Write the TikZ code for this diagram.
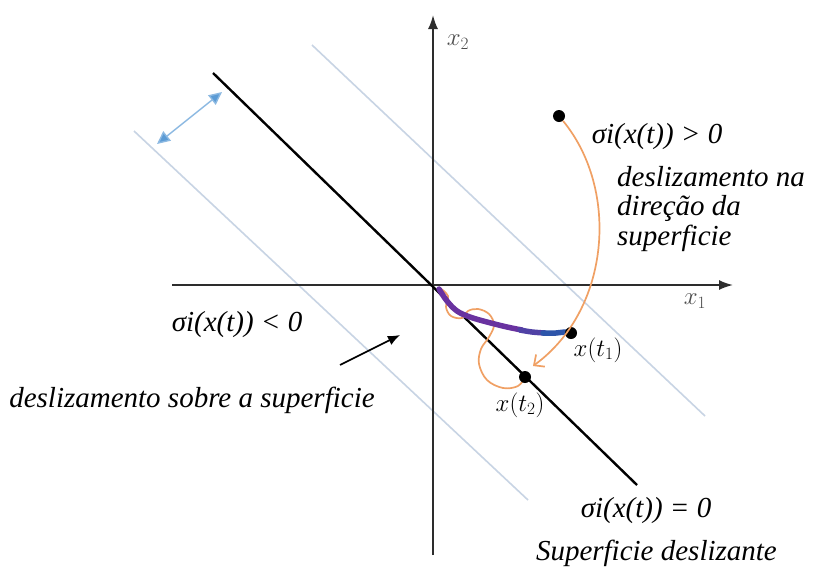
\documentclass[tikz,border=0pt]{standalone}
\usepackage{fontspec}
\setmainfont{Liberation Serif}
\usetikzlibrary{arrows.meta}
\definecolor{axisc}{RGB}{45,45,45}
\definecolor{lightl}{RGB}{200,212,228}
\definecolor{dblc}{RGB}{91,155,213}
\definecolor{orangec}{RGB}{240,160,100}
\definecolor{purp}{RGB}{105,50,160}
\definecolor{midp}{RGB}{80,65,165}
\definecolor{bluep}{RGB}{45,85,170}
\definecolor{labelgray}{RGB}{75,75,75}
\begin{document}
\begin{tikzpicture}[x=1pt,y=-1pt,
  lbl/.style={font=\fontsize{29}{29.5}\selectfont\itshape, inner sep=0pt},
  mlbl/.style={font=\fontsize{25}{25}\selectfont, inner sep=0pt},
  axlbl/.style={font=\fontsize{24}{24}\selectfont, text=labelgray, inner sep=0pt},
  dot/.style={circle, fill=black, inner sep=0pt, minimum size=12pt},
  axisline/.style={draw=axisc, line width=1.8pt, -{Latex[length=14pt,width=10pt]}},
  lightline/.style={draw=lightl, line width=1.6pt},
  surfline/.style={draw=black, line width=2.4pt},
  orangeline/.style={draw=orangec, line width=1.7pt},
  trajline/.style={line width=5.5pt, line cap=round, line join=round}]
\useasboundingbox (0,0) rectangle (824,574);
\fill[white] (0,0) rectangle (824,574);

% light parallel lines
\coordinate (u1) at (312,45); \coordinate (u2) at (705,416);
\coordinate (l1) at (134,131); \coordinate (l2) at (528,500);
\draw[lightline] (u1) -- (u2);
\draw[lightline] (l1) -- (l2);

% axes
\coordinate (x2b) at (433,555); \coordinate (x2t) at (433,15);
\coordinate (x1l) at (172,285); \coordinate (x1r) at (733,285);
\draw[axisline] (x2b) -- (x2t);
\draw[axisline] (x1l) -- (x1r);
\node[axlbl] (x2lab) at (458,42) {$x_2$};
\node[axlbl] (x1lab) at (695,301) {$x_1$};

% sliding surface
\coordinate (s1) at (213,73); \coordinate (s2) at (637,485);
\draw[surfline] (s1) -- (s2);

% double arrow
\coordinate (d1) at (157,144); \coordinate (d2) at (222,92);
\draw[draw=dblc!70!white, line width=1.4pt, {Triangle[length=13pt,width=12pt,fill=dblc]}-{Triangle[length=13pt,width=12pt,fill=dblc]}] (d1) -- (d2);

% orange loops
\draw[orangeline] plot[smooth, tension=0.6] coordinates {(440,288) (448,296) (446,307) (451,316) (462,318) (468,311) (478,309) (489,314) (494,325) (489,337) (481,349) (479,364) (487,380) (503,388) (518,386) (525,377)};

% trajectory
\draw[trajline, draw=purp] plot[smooth, tension=0.6] coordinates {(439,289) (447,301) (457,311) (470,317) (487,322) (507,327) (522,330)};
\draw[trajline, draw=midp] plot[smooth, tension=0.6] coordinates {(520,330) (532,332) (545,333)};
\draw[trajline, draw=bluep] plot[smooth, tension=0.6] coordinates {(543,333) (556,333) (565,332) (571,333)};

% dots
\node[dot] (A) at (559,116) {};
\node[dot] (t1) at (571,333) {};
\node[dot] (t2) at (525,377) {};
\coordinate (tipB) at (533,366);
\draw[orangeline, -{Straight Barb[length=8pt,width=15pt]}] (A) .. controls (620,190) and (610,310) .. (tipB);

\node[mlbl] (t1lab) at (598,350) {$x(t_1)$};
\node[mlbl] (t2lab) at (520,405) {$x(t_2)$};

% labels
\node[lbl] (neg) at (237,325) {σi(x(t)) < 0};
\node[lbl] (sobre) at (192,400) {deslizamento sobre a superficie};
\coordinate (ar1) at (340,365); \coordinate (ar2) at (400,335);
\draw[line width=1.6pt, -{Latex[length=12pt,width=10pt]}] (ar1) -- (ar2);
\node[lbl] (pos) at (657,137) {σi(x(t)) > 0};
\node[lbl, anchor=north west, align=left] (dir) at (617,166) {deslizamento na\\direção da\\superficie};
\node[lbl] (zero) at (646,511) {σi(x(t)) = 0};
\node[lbl, anchor=east] (surf) at (777,553) {Superficie deslizante};
\end{tikzpicture}
\end{document}
